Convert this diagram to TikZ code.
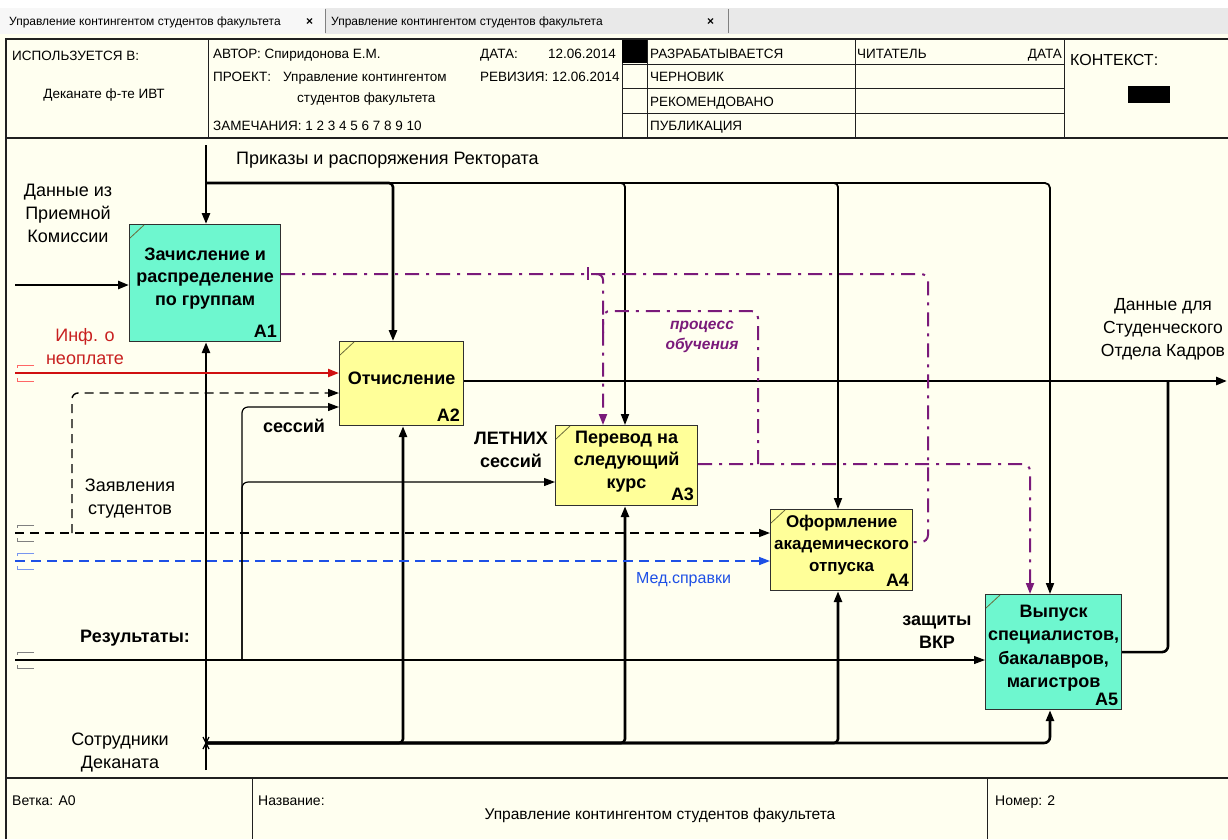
\documentclass[tikz,border=0pt]{standalone}
\usepackage{fontspec}
\setmainfont{Liberation Sans}
\usetikzlibrary{arrows.meta,calc}
\definecolor{cream}{HTML}{FFFFF0}
\definecolor{tabgrey}{HTML}{E9E9E9}
\definecolor{tabact}{HTML}{F7F7F7}
\definecolor{boxcyan}{HTML}{6EF7CF}
\definecolor{boxyel}{HTML}{FFFF99}
\definecolor{purp}{HTML}{7A1A7A}
\definecolor{redln}{HTML}{D01010}
\definecolor{redtx}{HTML}{C82020}
\definecolor{bluln}{HTML}{1E50E6}
\definecolor{boxedge}{HTML}{303030}
\definecolor{markcol}{HTML}{6B6B3A}
\definecolor{frame}{HTML}{202020}
\begin{document}
\begin{tikzpicture}[x=1pt,y=-1pt,
  tip/.style={-{Triangle[length=11pt,width=8pt]}},
  thk/.style={line width=2.6pt},
  med/.style={line width=1.8pt},
  thn/.style={line width=1.2pt},
  dsh/.style={line width=1.4pt, dash pattern=on 9pt off 6pt},
  blu/.style={line width=1.5pt, draw=bluln, dash pattern=on 10pt off 6pt},
  pdd/.style={line width=2pt, draw=purp, dash pattern=on 14pt off 7pt on 3pt off 7pt},
  abox/.style={draw=boxedge, line width=1.2pt, anchor=north west, inner sep=0pt},
  btxt/.style={font=\fontsize{18}{22.5}\selectfont\bfseries, align=center, inner sep=0pt},
  alab/.style={font=\fontsize{18}{20}\selectfont\bfseries, anchor=south east, inner sep=0pt},
  lbl/.style={font=\fontsize{18}{23}\selectfont, align=center, inner sep=0pt},
  blbl/.style={font=\fontsize{18}{22.5}\selectfont\bfseries, align=center, inner sep=0pt},
  hdr/.style={font=\fontsize{13.5}{15}\selectfont, anchor=base west, inner sep=0pt},
  ftr/.style={font=\fontsize{14}{16}\selectfont, anchor=base west, inner sep=0pt},
  tabt/.style={font=\fontsize{12}{13}\selectfont, anchor=base west, inner sep=0pt},
  brk/.style={line width=0.9pt}
]
\useasboundingbox (0,0) rectangle (1228,839);
\fill[cream] (0,0) rectangle (1228,839);
% top strip and tabs
\fill[white] (0,0) rectangle (1228,8);
\fill[tabgrey] (0,8) rectangle (1228,34);
\fill[tabact] (0,8) rectangle (325,34);
\draw[gray,line width=0.8pt] (325,9) -- (325,33);
\draw[gray,line width=0.8pt] (728,9) -- (728,33);
\node[tabt] (tab1) at (9,25) {Управление контингентом студентов факультета};
\node[tabt,font=\fontsize{12}{13}\selectfont\bfseries] (tab1x) at (306,25) {×};
\node[tabt] (tab2) at (331,25) {Управление контингентом студентов факультета};
\node[tabt,font=\fontsize{12}{13}\selectfont\bfseries] (tab2x) at (707,25) {×};
% header frame
\draw[frame,line width=1.2pt] (6,839) -- (6,39) -- (1228,39);
\draw[frame,line width=1.2pt] (6,138) -- (1228,138);
\foreach \xx in {208,622,647,855,1064} \draw[frame,line width=1pt] (\xx,39) -- (\xx,138);
\foreach \yy in {64,88,113} \draw[frame,line width=1pt] (622,\yy) -- (1064,\yy);
\fill[black] (622,40) rectangle (647,63);
\fill[black] (1128,86) rectangle (1170,103);
\node[hdr] (h1) at (12,60) {ИСПОЛЬЗУЕТСЯ В:};
\node[hdr,anchor=base] (h2) at (104,98) {Деканате ф-те ИВТ};
\node[hdr] (h3) at (213,58) {АВТОР: Спиридонова Е.М.};
\node[hdr] (h4) at (480,58) {ДАТА:};
\node[hdr] (h5) at (548,58) {12.06.2014};
\node[hdr] (h6) at (213,81) {ПРОЕКТ:};
\node[hdr] (h7) at (283,81) {Управление контингентом};
\node[hdr] (h8) at (480,81) {РЕВИЗИЯ: 12.06.2014};
\node[hdr] (h9) at (297,102) {студентов факультета};
\node[hdr] (h10) at (213,130) {ЗАМЕЧАНИЯ: 1 2 3 4 5 6 7 8 9 10};
\node[hdr] (h11) at (650,58) {РАЗРАБАТЫВАЕТСЯ};
\node[hdr] (h12) at (650,81) {ЧЕРНОВИК};
\node[hdr] (h13) at (650,106) {РЕКОМЕНДОВАНО};
\node[hdr] (h14) at (650,130) {ПУБЛИКАЦИЯ};
\node[hdr] (h15) at (857,58) {ЧИТАТЕЛЬ};
\node[hdr,anchor=base east] (h16) at (1062,58) {ДАТА};
\node[hdr,font=\fontsize{16}{18}\selectfont] (h17) at (1070,65) {КОНТЕКСТ:};
% footer
\draw[frame,line width=1.2pt] (6,778) -- (1228,778);
\draw[frame,line width=1pt] (252,778) -- (252,839);
\draw[frame,line width=1pt] (987,778) -- (987,839);
\node[ftr] (f1) at (12,805) {Ветка: A0};
\node[ftr] (f2) at (258,805) {Название:};
\node[ftr,anchor=base,font=\fontsize{15.5}{17}\selectfont] (f3) at (660,819) {Управление контингентом студентов факультета};
\node[ftr] (f4) at (995,805) {Номер: 2};
% boxes
\node[abox,fill=boxcyan,minimum width=151pt,minimum height=117pt] (A1) at (129,224) {};
\node[abox,fill=boxyel,minimum width=124pt,minimum height=84pt] (A2) at (339,341) {};
\node[abox,fill=boxyel,minimum width=142pt,minimum height=80pt] (A3) at (555,425) {};
\node[abox,fill=boxyel,minimum width=142pt,minimum height=81pt] (A4) at (770,509) {};
\node[abox,fill=boxcyan,minimum width=136pt,minimum height=115pt] (A5) at (985,594) {};
\foreach \b in {A1,A2,A3,A4,A5}
  \draw[markcol,line width=0.8pt] ($(\b.north west)+(1,14)$) -- ($(\b.north west)+(15,1)$);
\node[btxt] (A1t) at ($(A1.center)+(0,-5)$) {Зачисление и\\распределение\\по группам};
\node[btxt] (A2t) at ($(A2.center)+(0,-5)$) {Отчисление};
\node[btxt] (A3t) at ($(A3.center)+(0,-4)$) {Перевод на\\следующий\\курс};
\node[btxt,font=\fontsize{17}{22}\selectfont\bfseries] (A4t) at ($(A4.center)+(0,-5)$) {Оформление\\академического\\отпуска};
\node[btxt,font=\fontsize{18}{23.5}\selectfont\bfseries] (A5t) at ($(A5.center)+(0,-4)$) {Выпуск\\специалистов,\\бакалавров,\\магистров};
\node[alab] (A1l) at ($(A1.south east)+(-4,-5)$) {A1};
\node[alab] (A2l) at ($(A2.south east)+(-4,-5)$) {A2};
\node[alab] (A3l) at ($(A3.south east)+(-4,-5)$) {A3};
\node[alab] (A4l) at ($(A4.south east)+(-4,-5)$) {A4};
\node[alab] (A5l) at ($(A5.south east)+(-4,-4)$) {A5};
% coordinates
\coordinate (cTop) at (206,145);
\coordinate (cJ) at (206,183);
\coordinate (mBot) at (206,770);
\coordinate (mJ) at (206,743);
\coordinate (inPK) at (15,285);
\coordinate (inRed) at (15,373);
\coordinate (inZ) at (15,533);
\coordinate (zB) at (72,533);
\coordinate (inM) at (15,561);
\coordinate (inR) at (15,660);
\coordinate (rB) at (242,660);
\coordinate (outD) at (1227,381);
\coordinate (outJ) at (1168,381);
\coordinate (pR) at (928,274);
\coordinate (pB) at (596,274);
\coordinate (pF) at (758,464);
\coordinate (pF2) at (603,340);
% control lines
\draw[med,tip,rounded corners=5pt] (cJ) -| ($(A5.north west)+(65,0)$);
\draw[thk,tip] (cTop) -- (cTop |- A1.north);
\draw[thk,tip,rounded corners=4pt] (cJ) -| ($(A2.north west)+(54,0)$);
\draw[med,tip,rounded corners=4pt] (cJ) -| ($(A3.north west)+(70,0)$);
\draw[thk,rounded corners=4pt] (cJ) -- ($(cJ)+(632,0)$);
\draw[med,tip,rounded corners=4pt] (cJ) -| ($(A4.north west)+(68,0)$);
% mechanism lines
\draw[thk,tip] (mBot) -- (mBot |- A1.south);
\draw[thk,tip,rounded corners=6pt] (mJ) -| ($(A5.south west)+(65,0)$);
\draw[thk,tip,rounded corners=4pt] (mJ) -| ($(A2.south west)+(64,0)$);
\draw[thk,tip,rounded corners=4pt] (mJ) -| ($(A3.south west)+(70,0)$);
\draw[thk,tip,rounded corners=4pt] (mJ) -| ($(A4.south west)+(68,0)$);
\draw[line width=1.2pt] ($(mJ)+(-3,-6)$) -- ($(mJ)+(3,6)$) ($(mJ)+(3,-6)$) -- ($(mJ)+(-3,6)$);
% inputs
\draw[thk,tip] (inPK) -- (A1.west |- inPK);
\draw[redln,line width=2pt,tip] (inRed) -- (A2.west |- inRed);
\draw[dsh,tip] (inZ) -- (A4.west |- inZ);
\draw[dsh,tip,rounded corners=6pt] (zB) |- ($(A2.north west)+(0,52)$);
\draw[blu,tip] (inM) -- (A4.west |- inM);
\draw[thn,tip] (inR) -- (A5.west |- inR);
\draw[thn,tip,rounded corners=6pt] (rB) |- ($(A3.north west)+(0,57)$);
\draw[thn,tip,rounded corners=6pt] (rB) |- ($(A2.north west)+(0,66)$);
% tunnel brackets
\foreach \yy/\cc in {373/red!60, 533/gray, 561/bluln!60, 660/gray}{
  \draw[brk,\cc] (34,\yy-8) -- (17,\yy-8) -- (17,\yy-5);
  \draw[brk,\cc] (17,\yy+5) -- (17,\yy+8) -- (34,\yy+8);
}
% outputs
\draw[thk,tip] (A2.east |- outD) -- (outD);
\draw[thk,rounded corners=6pt] (A5.east) -| (outJ);
% purple
\draw[pdd,rounded corners=7pt] ($(A1.north east)+(0,50)$) -- (pR) |- ($(A4.north east)+(0,33)$);
\draw[pdd,tip,rounded corners=6pt] (pB) -| ($(A3.north west)+(48,0)$);
\draw[purp,line width=1.5pt] ($(pB)+(-8,-7)$) -- ($(pB)+(-8,6)$);
\draw[pdd,tip,rounded corners=7pt] ($(A3.north east)+(0,39)$) -| ($(A5.north west)+(45,0)$);
\draw[pdd,rounded corners=7pt] (pF) -- ++(0,-153) -| (pF2);
% labels
\node[lbl,anchor=west] (lPr) at (236,160) {Приказы и распоряжения Ректората};
\node[lbl] (lPK) at (68,213) {Данные из\\Приемной\\Комиссии};
\node[lbl,text=redtx] (lRed) at (85,347) {Инф. о\\неоплате};
\node[lbl] (lZ) at (130,499) {Заявления\\студентов};
\node[blbl,anchor=west] (lRes) at (80,638) {Результаты:};
\node[lbl] (lSD) at (120,752) {Сотрудники\\Деканата};
\node[blbl] (lSes) at (294,426) {сессий};
\node[blbl] (lLet) at (511,450) {ЛЕТНИХ\\сессий};
\node[blbl] (lVKR) at (937,632) {защиты\\ВКР};
\node[lbl,text=bluln,anchor=west,font=\fontsize{16}{18}\selectfont] (lMed) at (636,580) {Мед.справки};
\node[lbl,font=\fontsize{17.5}{23}\selectfont] (lOut) at (1163,329) {Данные для\\Студенческого\\Отдела Кадров};
\node[font=\fontsize{15.5}{20}\selectfont\bfseries\itshape, text=purp, align=center, inner sep=0pt] (lPO) at (702,337) {процесс\\обучения};
\end{tikzpicture}
\end{document}
